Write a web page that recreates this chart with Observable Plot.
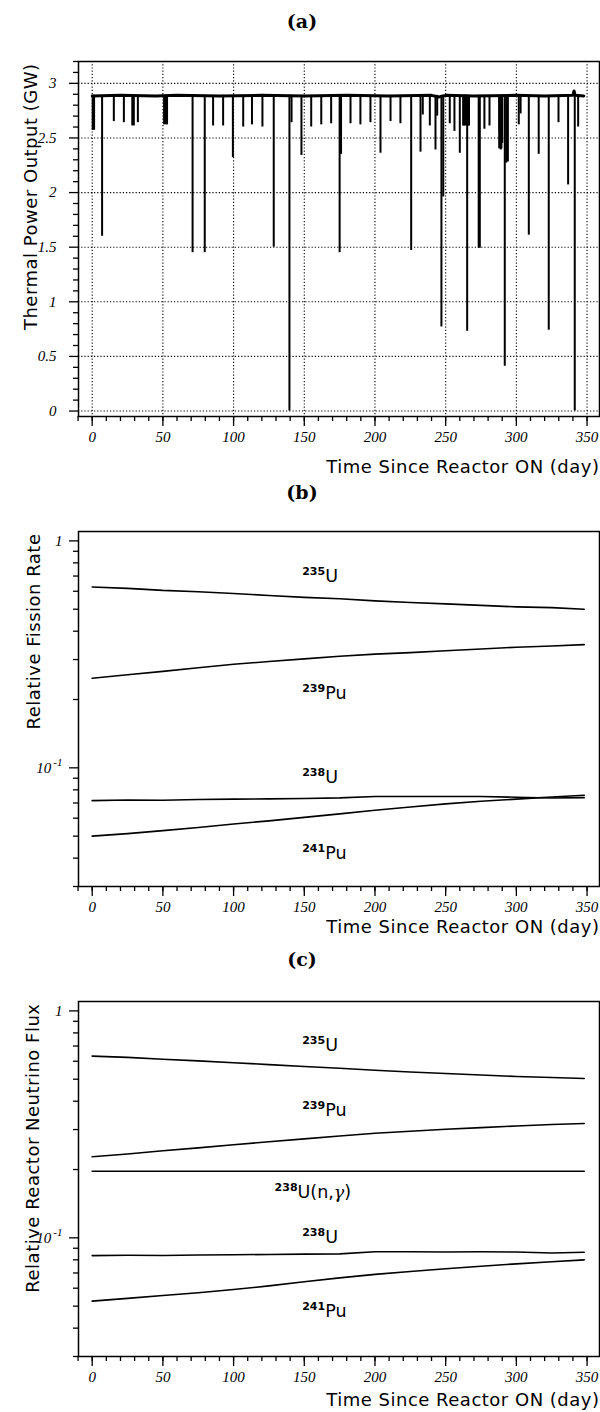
<!DOCTYPE html>
<html><head><meta charset="utf-8">
<script src="https://cdn.jsdelivr.net/npm/d3@7"></script>
<script src="https://cdn.jsdelivr.net/npm/@observablehq/plot@0.6"></script>
<style>
body{margin:0;background:#fff;}
#fig{position:relative;width:600px;height:1412px;overflow:hidden;background:#fff;}
.ptitle{position:absolute;left:0;width:604px;text-align:center;font:bold 19px "DejaVu Serif",serif;line-height:22px;color:#000;}
.panel{position:absolute;left:0;}
</style></head><body><div id="fig"></div>
<script>
// ---------- Panel titles and axis titles ----------
const panelTitles = ["(a)", "(b)", "(c)"];
const xTitle = "Time Since Reactor ON (day)";
const yTitles = ["Thermal Power Output (GW)", "Relative Fission Rate", "Relative Reactor Neutrino Flux"];

// ---------- Ticks ----------
const xMajorTicks = [0, 50, 100, 150, 200, 250, 300, 350];
const xMinorTicks = [-10, 0, 10, 20, 30, 40, 50, 60, 70, 80, 90, 100, 110, 120, 130, 140, 150, 160, 170, 180, 190, 200, 210, 220, 230, 240, 250, 260, 270, 280, 290, 300, 310, 320, 330, 340, 350];
const powerMajorTicks = [0, 0.5, 1, 1.5, 2, 2.5, 3];
const powerMinorTicks = [0.1, 0.2, 0.3, 0.4, 0.6, 0.7, 0.8, 0.9, 1.1, 1.2, 1.3, 1.4, 1.6, 1.7, 1.8, 1.9, 2.1, 2.2, 2.3, 2.4, 2.6, 2.7, 2.8, 2.9, 3.1, 3.2];
const logMajorTicks = [0.1, 1];
const logMajorLabels = ["10^-1", "1"];
const logMinorTicks = [0.03, 0.04, 0.05, 0.06, 0.07, 0.08, 0.09, 0.2, 0.3, 0.4, 0.5, 0.6, 0.7, 0.8, 0.9];

// ---------- Panel (a): thermal power ----------
const plateauGW = 2.89;
const powerBaseDay = [0, 20, 45, 60, 90, 120, 150, 180, 210, 240, 245, 250, 270, 300, 320, 340, 340.8, 341.6, 347.7];
const powerBaseGW  = [2.885, 2.89, 2.885, 2.89, 2.885, 2.89, 2.885, 2.89, 2.885, 2.89, 2.875, 2.89, 2.885, 2.89, 2.885, 2.89, 2.93, 2.89, 2.885];
const dipDay = [7, 15.3, 22.4, 32.3, 71, 79.6, 85.5, 92.6, 99.5, 106.8, 113, 120.4, 128.4, 139.5, 141, 148, 154.9, 162, 169, 175, 176, 182.7, 189.7, 196.8, 203.9, 211, 218, 225.6, 232.2, 233.8, 238.8, 242.8, 244, 247, 248.3, 252.9, 256.2, 260, 263, 264, 265.2, 266.5, 277.4, 281, 288, 289, 290, 291.8, 292.8, 294, 301.7, 303, 308.8, 315.8, 322.9, 329.8, 336.6, 341.3, 343.7];
const dipMinGW = [1.60, 2.65, 2.64, 2.64, 1.45, 1.45, 2.61, 2.61, 2.32, 2.60, 2.62, 2.60, 1.50, 0.0, 2.64, 2.34, 2.60, 2.62, 2.63, 1.45, 2.35, 2.63, 2.62, 2.64, 2.36, 2.65, 2.63, 1.47, 2.37, 2.71, 2.61, 2.39, 2.70, 0.77, 1.96, 2.63, 2.56, 2.36, 2.61, 2.65, 0.73, 2.61, 2.58, 2.61, 2.57, 2.39, 2.45, 0.41, 2.27, 2.28, 2.62, 2.72, 1.61, 2.35, 0.74, 2.64, 2.07, 0.0, 2.60];
const wideDipStart = [0, 28, 50.5, 262, 273, 287.5];
const wideDipEnd   = [2.4, 30.5, 54, 267, 275.2, 290.5];
const wideDipMinGW = [2.57, 2.61, 2.62, 2.61, 1.49, 2.40];

// ---------- Panels (b) and (c): isotopes ----------
const isoDays = [0, 25, 50, 75, 100, 125, 150, 175, 200, 225, 250, 275, 300, 325, 348];
const fissU235  = [0.626, 0.618, 0.605, 0.597, 0.586, 0.575, 0.564, 0.556, 0.544, 0.535, 0.528, 0.520, 0.512, 0.508, 0.500];
const fissPu239 = [0.248, 0.257, 0.266, 0.276, 0.286, 0.294, 0.302, 0.310, 0.317, 0.322, 0.328, 0.334, 0.340, 0.344, 0.349];
const fissU238  = [0.0717, 0.0722, 0.0720, 0.0725, 0.0728, 0.0730, 0.0733, 0.0737, 0.0748, 0.0748, 0.0748, 0.0748, 0.0742, 0.0736, 0.0739];
const fissPu241 = [0.0500, 0.0513, 0.0529, 0.0546, 0.0566, 0.0584, 0.0605, 0.0627, 0.0650, 0.0672, 0.0694, 0.0712, 0.0728, 0.0744, 0.0757];

const fluxU235  = [0.632, 0.624, 0.612, 0.602, 0.591, 0.580, 0.569, 0.559, 0.548, 0.538, 0.530, 0.522, 0.514, 0.509, 0.504];
const fluxPu239 = [0.2275, 0.234, 0.242, 0.249, 0.257, 0.265, 0.273, 0.281, 0.289, 0.295, 0.301, 0.306, 0.311, 0.316, 0.319];
const fluxU238  = [0.0835, 0.0838, 0.0836, 0.0840, 0.0842, 0.0845, 0.0848, 0.0850, 0.0868, 0.0868, 0.0866, 0.0868, 0.0866, 0.0858, 0.0864];
const fluxPu241 = [0.0526, 0.0541, 0.0557, 0.0573, 0.0592, 0.0614, 0.0640, 0.0666, 0.0690, 0.0711, 0.0731, 0.0750, 0.0768, 0.0785, 0.0800];
const fluxNgDays = [0, 348];
const fluxNg     = [0.1965, 0.1965];

// isotope labels: "^mass rest", anchor day, value
const fissLabelText = ["^235U", "^239Pu", "^238U", "^241Pu"];
const fissLabelDay  = [148.5, 148.5, 148.5, 148.5];
const fissLabelVal  = [0.70, 0.212, 0.0904, 0.042];
const fluxLabelText = ["^235U", "^239Pu", "^238U(n,γ)", "^238U", "^241Pu"];
const fluxLabelDay  = [148.5, 148.5, 129, 148.5, 148.5];
const fluxLabelVal  = [0.707, 0.365, 0.158, 0.100, 0.0475];

// ---------- Layout ----------
const W = 600, ML = 78, MR = 1, MT = 5, FH = 355;
const xDomain = [-9.69, 358.8];
const frameTops = [61, 531, 1001];
const marginBottoms = [65, 55, 55];
const xTitleOffsets = [56, 46, 49];
const yTitleDx = [-54, -51, -52];
const titleTops = [10, 481, 948];
const TICKFONT = "Liberation Serif";
const SANS = "DejaVu Sans";

const fig = document.getElementById("fig");

function xAxisMarks() {
  return [
    Plot.axisX(xMinorTicks, {tickSize: 5, text: null, label: null, strokeWidth: 1.3}),
    Plot.axisX(xMajorTicks, {tickSize: 10, tickPadding: 5, label: null, strokeWidth: 1.3,
      fontSize: 15, fontFamily: TICKFONT, fontStyle: "italic", tickFormat: d => String(d)})
  ];
}
function titleMarks(i) {
  return [
    Plot.text([xTitle], {frameAnchor: "bottom-right", text: d => d, textAnchor: "end", lineAnchor: "bottom",
      dy: xTitleOffsets[i], fontSize: 18, fontFamily: SANS}),
    Plot.text([yTitles[i]], {frameAnchor: "top-left", text: d => d, textAnchor: "end", rotate: -90,
      dx: yTitleDx[i], dy: 2, fontSize: 18, fontFamily: SANS})
  ];
}

function fixTexts(svg) {
  d3.select(svg).selectAll("text").each(function() {
    const t = this.textContent;
    const sel = d3.select(this);
    if (t === xTitle || yTitles.includes(t)) { sel.attr("letter-spacing", 0.5); return; }
    let m = /^\^(\d+)(.*)$/.exec(t);
    if (m) {
      sel.text(null);
      sel.append("tspan").attr("font-size", 11).attr("font-weight", "bold").attr("dy", -7).text(m[1]);
      const rest = m[2];
      const gi = rest.indexOf("γ");
      if (gi >= 0) {
        sel.append("tspan").attr("dy", 7).text(rest.slice(0, gi));
        sel.append("tspan").attr("font-family", "DejaVu Serif").attr("font-style", "italic").text("γ");
        sel.append("tspan").text(rest.slice(gi + 1));
      } else {
        sel.append("tspan").attr("dy", 7).text(rest);
      }
      return;
    }
    m = /^10\^(-?\d+)$/.exec(t);
    if (m) {
      sel.text(null);
      sel.append("tspan").text("10");
      sel.append("tspan").attr("font-size", 11).attr("dy", -7).attr("dx", 2).text(m[1]);
    }
  });
}

function place(svg, i) {
  const wrap = document.createElement("div");
  wrap.className = "panel";
  wrap.style.top = (frameTops[i] - MT) + "px";
  wrap.appendChild(svg);
  fig.appendChild(wrap);
  const t = document.createElement("div");
  t.className = "ptitle";
  t.style.top = titleTops[i] + "px";
  t.textContent = panelTitles[i];
  fig.appendChild(t);
}

const baseStyle = {background: "transparent", color: "black", overflow: "visible", fontFamily: SANS};

// ---------- Panel (a) ----------
{
  const base = powerBaseDay.map((d, k) => ({day: d, gw: powerBaseGW[k]}));
  const dips = dipDay.map((d, k) => ({day: d, min: dipMinGW[k], top: plateauGW}));
  const wide = wideDipStart.map((d, k) => ({x1: d, x2: wideDipEnd[k], min: wideDipMinGW[k], top: plateauGW}));
  const svg = Plot.plot({
    width: W, height: MT + FH + marginBottoms[0],
    marginLeft: ML, marginRight: MR, marginTop: MT, marginBottom: marginBottoms[0],
    style: baseStyle,
    x: {domain: xDomain},
    y: {domain: [-0.05, 3.2]},
    marks: [
      Plot.gridX(xMajorTicks, {stroke: "black", strokeOpacity: 1, strokeWidth: 1.1, strokeDasharray: "1.2,2"}),
      Plot.gridY(powerMajorTicks, {stroke: "black", strokeOpacity: 1, strokeWidth: 1.1, strokeDasharray: "1.2,2"}),
      Plot.rect(wide, {x1: "x1", x2: "x2", y1: "min", y2: "top", fill: "black"}),
      Plot.ruleX(dips, {x: "day", y1: "min", y2: "top", stroke: "black", strokeWidth: 2}),
      Plot.line(base, {x: "day", y: "gw", stroke: "black", strokeWidth: 3}),
      ...xAxisMarks(),
      Plot.axisY(powerMinorTicks, {tickSize: 5, text: null, label: null, strokeWidth: 1.3}),
      Plot.axisY(powerMajorTicks, {tickSize: 9, tickPadding: 13, label: null, strokeWidth: 1.3,
        fontSize: 15, fontFamily: TICKFONT, fontStyle: "italic", tickFormat: d => String(d)}),
      ...titleMarks(0),
      Plot.frame({stroke: "black", strokeWidth: 1.5})
    ]
  });
  fixTexts(svg);
  place(svg, 0);
}

// ---------- Panels (b), (c) ----------
function isoPanel(i, series, labels) {
  const lines = series.map(s => Plot.line(s.days.map((d, k) => ({day: d, v: s.vals[k]})),
    {x: "day", y: "v", stroke: "black", strokeWidth: 1.6}));
  const labelData = labels.text.map((t, k) => ({t, day: labels.day[k], v: labels.val[k]}));
  const svg = Plot.plot({
    width: W, height: MT + FH + marginBottoms[i],
    marginLeft: ML, marginRight: MR, marginTop: MT, marginBottom: marginBottoms[i],
    style: baseStyle,
    x: {domain: xDomain},
    y: {type: "log", domain: [0.03, 1.1]},
    marks: [
      ...lines,
      Plot.text(labelData, {x: "day", y: "v", text: "t", textAnchor: "start", fontSize: 17.5, fontFamily: SANS}),
      ...xAxisMarks(),
      Plot.axisY(logMinorTicks, {tickSize: 5, text: null, label: null, strokeWidth: 1.3}),
      Plot.axisY(logMajorTicks, {tickSize: 9, tickPadding: 7, label: null, strokeWidth: 1.3,
        fontSize: 15, fontFamily: TICKFONT, fontStyle: "italic",
        tickFormat: d => logMajorLabels[logMajorTicks.indexOf(d)]}),
      ...titleMarks(i),
      Plot.frame({stroke: "black", strokeWidth: 1.5})
    ]
  });
  fixTexts(svg);
  place(svg, i);
}

isoPanel(1, [
  {days: isoDays, vals: fissU235}, {days: isoDays, vals: fissPu239},
  {days: isoDays, vals: fissU238}, {days: isoDays, vals: fissPu241}
], {text: fissLabelText, day: fissLabelDay, val: fissLabelVal});

isoPanel(2, [
  {days: isoDays, vals: fluxU235}, {days: isoDays, vals: fluxPu239},
  {days: fluxNgDays, vals: fluxNg},
  {days: isoDays, vals: fluxU238}, {days: isoDays, vals: fluxPu241}
], {text: fluxLabelText, day: fluxLabelDay, val: fluxLabelVal});
</script></body></html>
